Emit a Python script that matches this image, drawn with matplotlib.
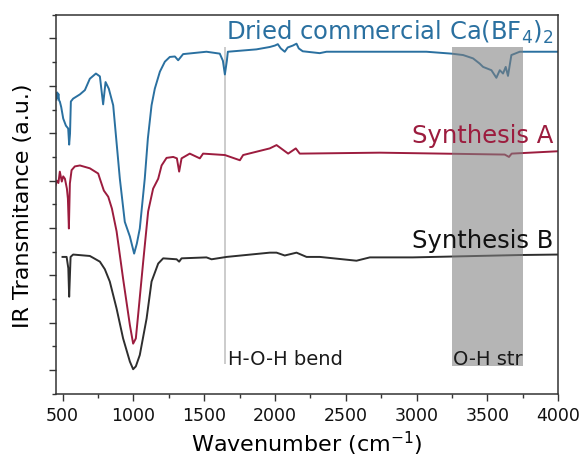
import numpy as np
import matplotlib.pyplot as plt
from matplotlib.patches import Rectangle
from matplotlib.ticker import MultipleLocator, NullFormatter

# ---- data (wavenumber in cm-1, offset transmittance in a.u.) ----
blue_wn = [457, 462, 466, 470, 475, 480, 490, 504, 523, 539, 546, 552, 558, 574, 622, 657,
           692, 735, 763, 786, 803, 826, 857, 904, 939, 975, 1005, 1024, 1045, 1080, 1102,
           1128, 1151, 1187, 1222, 1257, 1293, 1316, 1351, 1516, 1610, 1632, 1646, 1660,
           1667, 1869, 1963, 1999, 2020, 2041, 2069, 2090, 2126, 2152, 2168, 2196, 2316,
           2364, 2599, 3070, 3247, 3329, 3399, 3446, 3470, 3529, 3564, 3588, 3611, 3630,
           3646, 3670, 3729, 4000]
blue_t = [5.71, 5.86, 5.74, 5.83, 5.69, 5.67, 5.55, 5.31, 5.16, 5.10, 4.76, 4.99, 5.67, 5.73,
          5.82, 5.91, 6.15, 6.26, 6.20, 5.61, 6.08, 5.94, 5.59, 4.04, 3.13, 2.82, 2.46, 2.67,
          2.99, 4.04, 4.89, 5.59, 5.94, 6.30, 6.51, 6.61, 6.62, 6.54, 6.67, 6.72, 6.68, 6.53,
          6.24, 6.53, 6.72, 6.77, 6.82, 6.85, 6.88, 6.79, 6.72, 6.81, 6.85, 6.89, 6.79, 6.73,
          6.69, 6.72, 6.72, 6.72, 6.68, 6.65, 6.58, 6.47, 6.40, 6.33, 6.17, 6.33, 6.26, 6.40,
          6.21, 6.65, 6.72, 6.72]

red_wn = [450, 459, 470, 480, 494, 504, 516, 530, 537, 544, 551, 563, 586, 622, 692, 751,
          763, 791, 822, 848, 881, 927, 975, 998, 1017, 1033, 1069, 1104, 1139, 1175, 1199,
          1234, 1281, 1307, 1323, 1340, 1398, 1469, 1492, 1646, 1752, 1775, 1963, 2011,
          2034, 2093, 2147, 2175, 2740, 3623, 3653, 3672, 4000]
red_t = [3.90, 4.00, 3.95, 4.19, 3.98, 4.09, 4.04, 3.83, 3.62, 2.99, 3.94, 4.22, 4.30, 4.32,
         4.26, 4.15, 4.04, 3.79, 3.66, 3.41, 2.93, 1.93, 0.95, 0.56, 0.67, 1.16, 2.29, 3.35,
         3.83, 4.04, 4.32, 4.48, 4.50, 4.47, 4.19, 4.47, 4.57, 4.47, 4.57, 4.54, 4.43, 4.54,
         4.68, 4.75, 4.70, 4.57, 4.68, 4.57, 4.59, 4.55, 4.50, 4.57, 4.62]

black_wn = [499, 528, 540, 546, 556, 574, 692, 716, 763, 798, 833, 881, 927, 975, 998, 1017,
            1045, 1093, 1128, 1175, 1210, 1305, 1323, 1340, 1516, 1552, 1658, 1963, 2011,
            2069, 2152, 2223, 2317, 2576, 2670, 2973, 3729, 4000]
black_t = [2.39, 2.39, 2.15, 1.55, 2.39, 2.44, 2.41, 2.37, 2.29, 2.13, 1.87, 1.30, 0.67, 0.18,
           0.02, 0.08, 0.32, 1.09, 1.87, 2.25, 2.36, 2.34, 2.29, 2.36, 2.38, 2.34, 2.39, 2.48,
           2.48, 2.42, 2.48, 2.39, 2.39, 2.31, 2.38, 2.38, 2.43, 2.44]

labels = ["Dried commercial Ca(BF$_4$)$_2$", "Synthesis A", "Synthesis B"]
colors = ["#2a70a0", "#9c1c3e", "#2e2e2e"]

hoh_band = 1646
oh_band = (3250, 3750)

fig = plt.figure(figsize=(5.85, 4.64), dpi=100)
ax = fig.add_axes([0.095, 0.149, 0.859, 0.817])

for wn, t, c in zip([blue_wn, red_wn, black_wn], [blue_t, red_t, black_t], colors):
    ax.plot(wn, t, color=c, lw=1.4, zorder=2)

# band markers
ax.vlines(hoh_band, 0.12, 6.82, color="#c4c4c4", lw=1.2, zorder=1)
ax.add_patch(Rectangle((oh_band[0], 0.08), oh_band[1] - oh_band[0], 6.74,
                       facecolor="#808080", alpha=0.58, edgecolor="none", zorder=3))
ax.text(hoh_band + 22, 0.14, "H-O-H bend", fontsize=14, color="#1a1a1a", zorder=4)
ax.text(oh_band[0] + 5, 0.14, "O-H str", fontsize=14, color="#1a1a1a", zorder=4)

# series labels
ax.text(3965, 7.0, labels[0], color=colors[0], fontsize=17.5, ha="right", zorder=4)
ax.text(3965, 4.82, labels[1], color=colors[1], fontsize=17.5, ha="right", zorder=4)
ax.text(3965, 2.60, labels[2], color="#111111", fontsize=17.5, ha="right", zorder=4)

ax.set_xlim(450, 4000)
ax.set_ylim(-0.5, 7.5)
ax.xaxis.set_major_locator(MultipleLocator(500))
ax.xaxis.set_minor_locator(MultipleLocator(250))
ax.yaxis.set_major_locator(MultipleLocator(1))
ax.yaxis.set_minor_locator(MultipleLocator(0.5))
ax.yaxis.set_major_formatter(NullFormatter())
ax.tick_params(which="major", direction="out", length=5, width=1, colors="#333333",
               labelsize=12.5, labelcolor="#111111")
ax.tick_params(which="minor", direction="out", length=3, width=1, colors="#333333")
for s in ax.spines.values():
    s.set_linewidth(1.1)
    s.set_color("#333333")

ax.set_xlabel("Wavenumber (cm$^{-1}$)", fontsize=16, labelpad=4)
ax.set_ylabel("IR Transmitance (a.u.)", fontsize=16, labelpad=8)

fig.savefig("out.png", dpi=100)
